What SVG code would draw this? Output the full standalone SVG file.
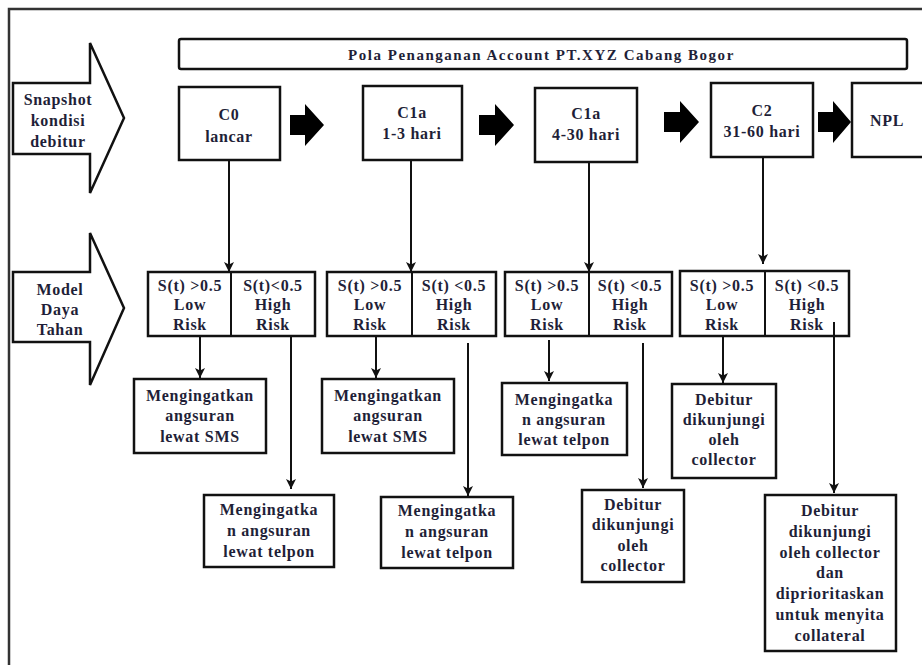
<svg xmlns="http://www.w3.org/2000/svg" width="922" height="665" viewBox="0 0 922 665">
<defs>
<style>
.box{fill:#fff;stroke:#111;stroke-width:2.5}
.big{fill:#fff;stroke:#111;stroke-width:2.5;stroke-linejoin:miter}
.blk{fill:#000}
.ln{stroke:#111;stroke-width:2;fill:none}
.t text{font-family:'Liberation Serif','DejaVu Serif',serif;font-weight:700;font-size:16px;fill:#1f1f38;text-anchor:middle;letter-spacing:0.7px}
</style>
<marker id="ah" viewBox="0 0 10 10" refX="10" refY="5" markerWidth="10" markerHeight="10" markerUnits="userSpaceOnUse" orient="auto">
<path d="M0,0 L10,5 L0,10 L2.5,5 Z" fill="#111"/>
</marker>
</defs>
<rect x="0" y="0" width="922" height="665" fill="#fff"/>
<path id="frame" d="M9,665 V9 H922" fill="none" stroke="#333" stroke-width="2.5"/>
<g class="t">
<g id="title">
<rect class="box" x="179" y="39" width="728" height="30" rx="2"/>
<text x="541" y="60" textLength="386" lengthAdjust="spacing" style="font-size:15px">Pola Penanganan Account PT.XYZ Cabang Bogor</text>
</g>

<g id="snapshot">
<path class="big" d="M13,83 H90 V43 L124,118 L90,193 V154 H13 Z"/>
<text x="58" y="105">Snapshot</text>
<text x="58" y="126">kondisi</text>
<text x="58" y="147">debitur</text>
</g>

<g id="model">
<path class="big" d="M13,272 H90 V233 L124,308 L90,385 V342 H13 Z"/>
<text x="60" y="295">Model</text>
<text x="60" y="315">Daya</text>
<text x="60" y="335">Tahan</text>
</g>

<g id="c0"><rect class="box" x="179" y="87" width="101" height="73"/><text x="229" y="120">C0</text><text x="229" y="142">lancar</text></g>
<g id="c1a-1"><rect class="box" x="363" y="86" width="99" height="74"/><text x="412" y="118">C1a</text><text x="412" y="139">1-3 hari</text></g>
<g id="c1a-2"><rect class="box" x="535" y="88" width="102" height="74"/><text x="586" y="119">C1a</text><text x="586" y="140">4-30 hari</text></g>
<g id="c2"><rect class="box" x="711" y="83" width="102" height="74"/><text x="762" y="116">C2</text><text x="762" y="137">31-60 hari</text></g>
<g id="npl"><rect class="box" x="852" y="83" width="80" height="74"/><text x="887" y="126">NPL</text></g>

<g id="block-arrows">
<path class="blk" d="M290,115 H305 V104 L324,125 L305,146 V135 H290 Z"/>
<path class="blk" d="M479,115 H495 V104 L514,125 L495,146 V135 H479 Z"/>
<path class="blk" d="M664,112 H680 V101 L699,122 L680,143 V132 H664 Z"/>
<path class="blk" d="M818,112 H833 V101 L851,122 L833,143 V132 H818 Z"/>
</g>

<g id="split1"><rect class="box" x="148" y="272" width="167" height="64"/><line class="ln" x1="231" y1="272" x2="231" y2="336" stroke-width="2.5"/>
<text x="190" y="291">S(t) &gt;0.5</text><text x="190" y="310">Low</text><text x="190" y="330">Risk</text>
<text x="273" y="291">S(t)&lt;0.5</text><text x="273" y="310">High</text><text x="273" y="330">Risk</text></g>
<g id="split2"><rect class="box" x="327" y="272" width="169" height="64"/><line class="ln" x1="412" y1="272" x2="412" y2="336" stroke-width="2.5"/>
<text x="370" y="291">S(t) &gt;0.5</text><text x="370" y="310">Low</text><text x="370" y="330">Risk</text>
<text x="454" y="291">S(t) &lt;0.5</text><text x="454" y="310">High</text><text x="454" y="330">Risk</text></g>
<g id="split3"><rect class="box" x="505" y="272" width="167" height="64"/><line class="ln" x1="589" y1="272" x2="589" y2="336" stroke-width="2.5"/>
<text x="547" y="291">S(t) &gt;0.5</text><text x="547" y="310">Low</text><text x="547" y="330">Risk</text>
<text x="630" y="291">S(t) &lt;0.5</text><text x="630" y="310">High</text><text x="630" y="330">Risk</text></g>
<g id="split4"><rect class="box" x="680" y="271" width="169" height="65"/><line class="ln" x1="765" y1="271" x2="765" y2="336" stroke-width="2.5"/>
<text x="722" y="291">S(t) &gt;0.5</text><text x="722" y="310">Low</text><text x="722" y="330">Risk</text>
<text x="807" y="291">S(t) &lt;0.5</text><text x="807" y="310">High</text><text x="807" y="330">Risk</text></g>

<g id="r1-low"><rect class="box" x="134" y="379" width="132" height="74"/><text x="200" y="401">Mengingatkan</text><text x="200" y="421">angsuran</text><text x="200" y="442">lewat SMS</text></g>
<g id="r1-high"><rect class="box" x="204" y="495" width="130" height="72"/><text x="269" y="515">Mengingatka</text><text x="269" y="536">n angsuran</text><text x="269" y="557">lewat telpon</text></g>
<g id="r2-low"><rect class="box" x="322" y="379" width="132" height="74"/><text x="388" y="401">Mengingatkan</text><text x="388" y="421">angsuran</text><text x="388" y="442">lewat SMS</text></g>
<g id="r2-high"><rect class="box" x="381" y="497" width="132" height="71"/><text x="447" y="516">Mengingatka</text><text x="447" y="537">n angsuran</text><text x="447" y="558">lewat telpon</text></g>
<g id="r3-low"><rect class="box" x="502" y="383" width="125" height="72"/><text x="564" y="405">Mengingatka</text><text x="564" y="425">n angsuran</text><text x="564" y="445">lewat telpon</text></g>
<g id="r3-high"><rect class="box" x="582" y="490" width="102" height="92"/><text x="633" y="510">Debitur</text><text x="633" y="530">dikunjungi</text><text x="633" y="551">oleh</text><text x="633" y="571">collector</text></g>
<g id="r4-low"><rect class="box" x="672" y="384" width="104" height="94"/><text x="724" y="405">Debitur</text><text x="724" y="425">dikunjungi</text><text x="724" y="445">oleh</text><text x="724" y="465">collector</text></g>
<g id="r4-high"><rect class="box" x="765" y="495" width="131" height="156"/><text x="830" y="516">Debitur</text><text x="830" y="537">dikunjungi</text><text x="830" y="558">oleh collector</text><text x="830" y="578">dan</text><text x="830" y="599">diprioritaskan</text><text x="830" y="620">untuk menyita</text><text x="830" y="641">collateral</text></g>
</g>
<g id="connectors">
<line class="ln" x1="229" y1="160" x2="229" y2="272" marker-end="url(#ah)"/>
<line class="ln" x1="411" y1="160" x2="411" y2="272" marker-end="url(#ah)"/>
<line class="ln" x1="589" y1="162" x2="589" y2="272" marker-end="url(#ah)"/>
<line class="ln" x1="763" y1="157" x2="763" y2="264" marker-end="url(#ah)"/>
<line class="ln" x1="200" y1="336" x2="200" y2="378" marker-end="url(#ah)"/>
<line class="ln" x1="291" y1="336" x2="291" y2="489" marker-end="url(#ah)"/>
<line class="ln" x1="376" y1="336" x2="376" y2="378" marker-end="url(#ah)"/>
<line class="ln" x1="468" y1="343" x2="468" y2="496" marker-end="url(#ah)"/>
<line class="ln" x1="549" y1="340" x2="549" y2="381" marker-end="url(#ah)"/>
<line class="ln" x1="643" y1="343" x2="643" y2="488" marker-end="url(#ah)"/>
<line class="ln" x1="723" y1="336" x2="723" y2="383" marker-end="url(#ah)"/>
<line class="ln" x1="834" y1="322" x2="834" y2="493" marker-end="url(#ah)"/>
</g>
</svg>
